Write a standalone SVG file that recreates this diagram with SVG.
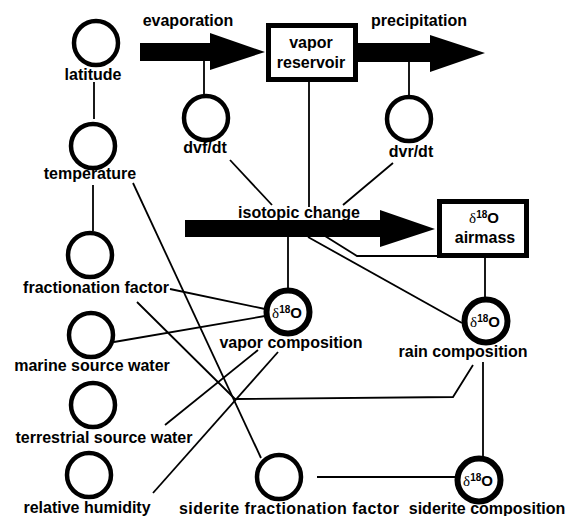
<svg xmlns="http://www.w3.org/2000/svg" width="569" height="516" viewBox="0 0 569 516">
<style>
text{font-family:"Liberation Sans",Arial,sans-serif;font-weight:bold;font-size:16px;fill:#000;text-anchor:middle}
.n{fill:#fff;stroke:#000;stroke-width:4.5}
.d{fill:#fff;stroke:#000;stroke-width:6}
.b{fill:#fff;stroke:#000;stroke-width:5}
.c line,.c polyline{stroke:#000;stroke-width:1.8;fill:none}
.g{font-family:"Liberation Serif","Times New Roman",serif;font-weight:normal;font-size:15px}
.s{font-size:10px}
.o{font-size:15px}
</style>
<rect width="569" height="516" fill="#fff"/>
<g id="connectors" class="c">
<line x1="94" y1="82" x2="94" y2="119"/>
<line x1="93" y1="185" x2="93" y2="231"/>
<line x1="204" y1="58" x2="204" y2="95"/>
<line x1="409" y1="60" x2="409" y2="97"/>
<line x1="309" y1="80" x2="309" y2="207"/>
<line x1="230" y1="160" x2="272" y2="205"/>
<line x1="393" y1="163" x2="343" y2="205"/>
<line x1="288" y1="236" x2="288" y2="290"/>
<line x1="308" y1="237" x2="462" y2="323"/>
<polyline points="325,236 357,256 439,256"/>
<line x1="485" y1="258" x2="485" y2="298"/>
<line x1="170" y1="289" x2="265" y2="309"/>
<line x1="114" y1="342" x2="265" y2="316"/>
<line x1="133" y1="183" x2="261" y2="458"/>
<polyline points="137,302 235,399 453,397 473,365"/>
<line x1="165" y1="425" x2="258" y2="350"/>
<line x1="153" y1="493" x2="278" y2="352"/>
<line x1="483" y1="362" x2="483" y2="458"/>
<line x1="317" y1="477" x2="457" y2="477"/>
</g>
<g id="evaporation">
<polygon points="140,43 210,43 210,33 265,52 210,70 210,61 140,61" fill="#000"/>
<text x="188" y="26">evaporation</text>
</g>
<g id="precipitation">
<polygon points="356,43 430,43 430,35 485,53 430,72 430,62 356,62" fill="#000"/>
<text x="419" y="26">precipitation</text>
</g>
<g id="vapor-reservoir">
<rect class="b" x="268.5" y="25.5" width="87" height="54"/>
<text x="311" y="48">vapor</text>
<text x="311" y="68">reservoir</text>
</g>
<g id="isotopic-change">
<text x="299" y="218">isotopic change</text>
<polygon points="185,220 380,220 380,210 435,229 380,247 380,237 185,237" fill="#000"/>
</g>
<g id="airmass">
<rect class="b" x="439.5" y="201.5" width="87" height="54"/>
<text x="484" y="223"><tspan class="g">δ</tspan><tspan class="s" dy="-5">18</tspan><tspan class="o" dy="5">O</tspan></text>
<text x="485" y="243">airmass</text>
</g>
<g id="latitude">
<circle class="n" cx="96" cy="43" r="22"/>
<text x="93" y="80">latitude</text>
</g>
<g id="temperature">
<circle class="n" cx="93" cy="146" r="22"/>
<text x="90" y="179">temperature</text>
</g>
<g id="fractionation-factor">
<circle class="n" cx="90" cy="255" r="22"/>
<text x="96" y="293">fractionation factor</text>
</g>
<g id="marine-source-water">
<circle class="n" cx="91" cy="335" r="22"/>
<text x="92" y="371">marine source water</text>
</g>
<g id="terrestrial-source-water">
<circle class="n" cx="93" cy="405" r="22"/>
<text x="104" y="443">terrestrial source water</text>
</g>
<g id="relative-humidity">
<circle class="n" cx="89" cy="475" r="22"/>
<text x="87" y="513">relative humidity</text>
</g>
<g id="dvf-dt">
<circle class="n" cx="206" cy="118" r="22"/>
<text x="205" y="153">dvf/dt</text>
</g>
<g id="dvr-dt">
<circle class="n" cx="409" cy="119" r="22"/>
<text x="411" y="157">dvr/dt</text>
</g>
<g id="vapor-composition">
<circle class="d" cx="288" cy="312" r="21.5"/>
<text x="287" y="318"><tspan class="g">δ</tspan><tspan class="s" dy="-5">18</tspan><tspan class="o" dy="5">O</tspan></text>
<text x="291" y="348">vapor composition</text>
</g>
<g id="rain-composition">
<circle class="d" cx="486" cy="321" r="21.5"/>
<text x="485" y="327"><tspan class="g">δ</tspan><tspan class="s" dy="-5">18</tspan><tspan class="o" dy="5">O</tspan></text>
<text x="463" y="357">rain composition</text>
</g>
<g id="siderite-fractionation-factor">
<circle class="n" cx="279" cy="477" r="22"/>
<text x="289" y="514" textLength="220">siderite fractionation factor</text>
</g>
<g id="siderite-composition">
<circle class="d" cx="479" cy="480" r="21.5"/>
<text x="478" y="486"><tspan class="g">δ</tspan><tspan class="s" dy="-5">18</tspan><tspan class="o" dy="5">O</tspan></text>
<text x="487" y="514">siderite composition</text>
</g>
</svg>
